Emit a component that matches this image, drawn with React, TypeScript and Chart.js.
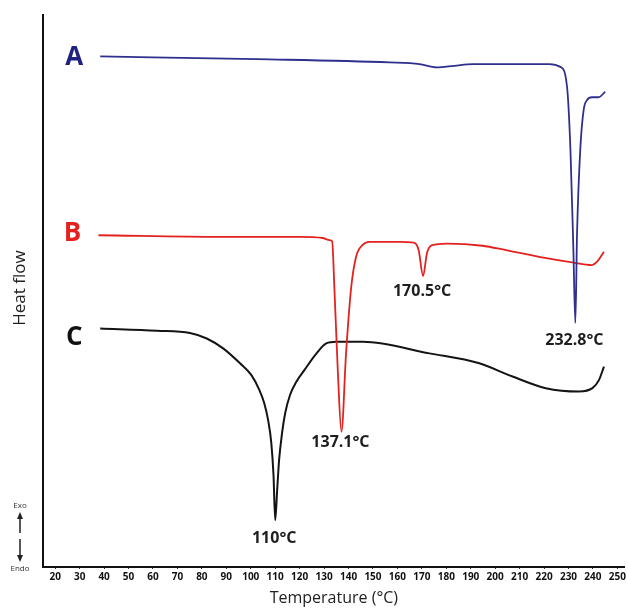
import React, { useEffect, useRef } from 'react';
import { Chart, registerables } from 'chart.js';

Chart.register(...registerables);

// ---- Data (temperature in °C, heat flow in arbitrary units) ----
const X_TICKS = [20, 30, 40, 50, 60, 70, 80, 90, 100, 110, 120, 130, 140, 150, 160, 170, 180, 190, 200, 210, 220, 230, 240, 250];

const SERIES_NAMES = ['A', 'B', 'C'];

const A_TEMP = [38.4, 102.5, 156.8, 169.0, 176.0, 183.3, 190.7, 222.1, 226.7, 229.4, 230.8, 232.0, 232.8, 233.5, 234.8, 236.2, 237.6, 239.6, 242.3, 245.0];
const A_HEAT = [92.5, 92.0, 91.4, 91.1, 90.5, 90.8, 91.1, 91.1, 90.6, 87.0, 75.5, 57.4, 44.2, 60.5, 75.5, 82.8, 84.6, 85.1, 85.1, 86.1];

const B_TEMP = [37.7, 88.6, 120.0, 129.4, 132.3, 133.3, 134.2, 135.6, 137.1, 139.0, 141.1, 143.1, 145.7, 148.5, 160.8, 166.7, 168.7, 170.5, 172.1, 174.2, 180.3, 194.8, 204.4, 218.0, 231.5, 239.6, 241.7, 244.5];
const B_HEAT = [60.1, 59.8, 59.8, 59.6, 59.2, 59.0, 50.7, 35.7, 24.5, 38.8, 50.7, 56.2, 58.3, 58.9, 58.9, 58.75, 57.4, 52.7, 56.9, 58.3, 58.6, 58.2, 57.4, 56.2, 55.2, 54.7, 55.3, 57.1];

const C_TEMP = [38.4, 61.6, 75.1, 82.0, 88.7, 95.6, 100.2, 103.5, 105.5, 107.1, 108.4, 109.3, 110.0, 110.8, 111.6, 112.7, 114.1, 116.1, 118.6, 122.0, 126.9, 130.9, 135.0, 145.9, 173.1, 193.5, 207.1, 220.7, 234.3, 239.8, 242.5, 244.5];
const C_HEAT = [43.2, 42.8, 42.4, 41.4, 39.6, 36.9, 34.8, 32.1, 29.7, 26.6, 22.5, 16.7, 8.5, 13.9, 19.4, 23.9, 27.9, 31.2, 33.5, 35.7, 38.7, 40.5, 40.8, 40.8, 38.7, 36.9, 34.5, 32.4, 31.8, 32.4, 33.9, 36.3];

const PEAK_TEXT = ['232.8°C', '170.5°C', '137.1°C', '110°C'];
const PEAK_TEMP = [232.8, 170.5, 137.1, 110];
const PEAK_SERIES = [0, 1, 1, 2];

// ---- Styles ----
const LINE_COLORS = ['#2f2f8e', '#e3221f', '#141414'];
const LETTER_COLORS = ['#1e2382', '#e3221f', '#111111'];
const FONT = '"Open Sans", "Noto Sans", sans-serif';

const toPoints = (xs: number[], ys: number[]) => xs.map((x, i) => ({ x, y: ys[i] }));

const textPlugin = {
  id: 'dscText',
  afterDraw(chart: any) {
    const { ctx, scales, chartArea } = chart;
    const xs = scales.x;
    const ys = scales.y;
    ctx.save();
    ctx.textAlign = 'center';
    ctx.textBaseline = 'middle';

    // Series letters
    const letterDy = [1, -2, 9];
    chart.data.datasets.forEach((ds: any, i: number) => {
      const p = ds.data[0];
      const px = xs.getPixelForValue(p.x) - 26;
      const py = ys.getPixelForValue(p.y) + letterDy[i];
      ctx.font = `bold 26px ${FONT}`;
      ctx.fillStyle = LETTER_COLORS[i];
      ctx.fillText(SERIES_NAMES[i], px, py);
    });

    // Peak labels
    const peakDy = [17, 15, 11, 18];
    ctx.font = `bold 16px ${FONT}`;
    ctx.fillStyle = '#1e1e1e';
    PEAK_TEXT.forEach((t, i) => {
      const ds = chart.data.datasets[PEAK_SERIES[i]];
      const pt = ds.data.find((d: any) => d.x === PEAK_TEMP[i]);
      if (!pt) return;
      const px = xs.getPixelForValue(pt.x) - 1;
      const py = ys.getPixelForValue(pt.y) + peakDy[i];
      ctx.fillText(t, px, py);
    });

    // Y axis title
    ctx.save();
    ctx.translate(chartArea.left - 23, (chartArea.top + chartArea.bottom) / 2 - 3);
    ctx.rotate(-Math.PI / 2);
    ctx.font = `17px ${FONT}`;
    ctx.fillStyle = '#222';
    ctx.fillText('Heat flow', 0, 0);
    ctx.restore();

    // Exo / Endo indicator
    const ax = chartArea.left - 23;
    const b = chartArea.bottom;
    ctx.font = `8px ${FONT}`;
    ctx.fillStyle = '#333';
    ctx.fillText('Exo', ax, b - 61);
    ctx.fillText('Endo', ax, b + 2);
    ctx.strokeStyle = '#222';
    ctx.lineWidth = 1.5;
    ctx.beginPath();
    ctx.moveTo(ax, b - 34);
    ctx.lineTo(ax, b - 50);
    ctx.moveTo(ax, b - 28);
    ctx.lineTo(ax, b - 10);
    ctx.stroke();
    ctx.fillStyle = '#222';
    ctx.beginPath();
    ctx.moveTo(ax, b - 55);
    ctx.lineTo(ax - 3, b - 48);
    ctx.lineTo(ax + 3, b - 48);
    ctx.closePath();
    ctx.fill();
    ctx.beginPath();
    ctx.moveTo(ax, b - 5);
    ctx.lineTo(ax - 3, b - 12);
    ctx.lineTo(ax + 3, b - 12);
    ctx.closePath();
    ctx.fill();

    ctx.restore();
  },
};

export default function App() {
  const canvasRef = useRef<HTMLCanvasElement | null>(null);

  useEffect(() => {
    const canvas = canvasRef.current;
    if (!canvas) return;
    const series = [toPoints(A_TEMP, A_HEAT), toPoints(B_TEMP, B_HEAT), toPoints(C_TEMP, C_HEAT)];
    const chart = new Chart(canvas, {
      type: 'line',
      data: {
        datasets: series.map((data, i) => ({
          label: SERIES_NAMES[i],
          data,
          borderColor: LINE_COLORS[i],
          backgroundColor: LINE_COLORS[i],
          borderWidth: i === 2 ? 2 : 1.8,
          pointRadius: 0,
          fill: false,
          cubicInterpolationMode: 'monotone' as const,
        })),
      },
      options: {
        responsive: false,
        animation: false,
        devicePixelRatio: 1,
        layout: { padding: { left: 43, top: 15, right: 3, bottom: 0 } },
        plugins: { legend: { display: false }, tooltip: { enabled: false }, title: { display: false } },
        scales: {
          x: {
            type: 'linear',
            min: 15,
            max: 253,
            afterBuildTicks: (scale: any) => {
              scale.ticks = X_TICKS.map((v) => ({ value: v }));
            },
            afterFit: (scale: any) => {
              scale.height = 41;
            },
            grid: { display: true, drawOnChartArea: false, drawTicks: true, tickLength: 2, color: '#333', lineWidth: 1 },
            border: { display: true, color: '#111', width: 2 },
            ticks: {
              autoSkip: false,
              maxRotation: 0,
              padding: 2,
              color: '#111',
              font: { family: FONT, size: 10, weight: 'bold' },
              callback: (v: any) => String(v),
            },
            title: {
              display: true,
              text: 'Temperature (°C)',
              color: '#222',
              font: { family: FONT, size: 16 },
              padding: { top: 0, bottom: 0 },
            },
          },
          y: {
            type: 'linear',
            min: 0,
            max: 100,
            afterFit: (scale: any) => {
              scale.width = 0;
            },
            grid: { display: false, drawTicks: false },
            border: { display: true, color: '#111', width: 2 },
            ticks: { display: false },
            title: { display: false },
          },
        },
      },
      plugins: [textPlugin],
    });
    return () => chart.destroy();
  }, []);

  return (
    <div style={{ position: 'fixed', left: 0, top: 0, width: 628, height: 608, background: '#fff' }}>
      <canvas ref={canvasRef} width={628} height={608} style={{ display: 'block' }} />
    </div>
  );
}
